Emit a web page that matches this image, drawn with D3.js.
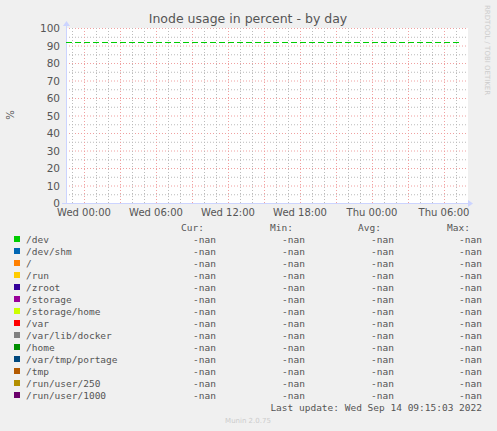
<!DOCTYPE html>
<html><head><meta charset="utf-8">
<script src="https://cdn.jsdelivr.net/npm/d3@7"></script>
<style>body{margin:0;background:#f0f0f0;} svg{font-family:"DejaVu Sans",sans-serif;}</style>
</head><body><svg id="chart" width="497" height="431"></svg>
<script>
// hours relative to Wed 00:00
const devHours = [-1.5, 0, 3, 6, 9, 12, 15, 18, 21, 24, 27, 30, 31.5];
const devValues = [92, 92, 92, 92, 92, 92, 92, 92, 92, 92, 92, 92, 92];
const yTicks = [0, 10, 20, 30, 40, 50, 60, 70, 80, 90, 100];
const xTickLabels = ["Wed 00:00", "Wed 06:00", "Wed 12:00", "Wed 18:00", "Thu 00:00", "Thu 06:00"];
const xTickHours = [0, 6, 12, 18, 24, 30];
const names = ["/dev", "/dev/shm", "/", "/run", "/zroot", "/storage", "/storage/home", "/var",
  "/var/lib/docker", "/home", "/var/tmp/portage", "/tmp", "/run/user/250", "/run/user/1000"];
const colors = ["#00cc00", "#0066b3", "#ff8000", "#ffcc00", "#330099", "#990099", "#ccff00", "#ff0000",
  "#808080", "#008f00", "#00487d", "#b35a00", "#b38f00", "#6b006b"];
const curV = names.map(() => "-nan"), minV = curV, avgV = curV, maxV = curV;

const svg = d3.select("#chart");
const x = d3.scaleLinear().domain([-1.5, 32]).range([66, 468]);
const y = d3.scaleLinear().domain([0, 100]).range([203, 28]);

svg.append("rect").attr("x", 66).attr("y", 28).attr("width", 402).attr("height", 175).attr("fill", "#fff");

// grid
const g = svg.append("g");
g.selectAll(".hmin").data(d3.range(0, 101, 5)).join("line")
  .attr("x1", 66).attr("x2", 468).attr("y1", d => y(d) + .5).attr("y2", d => y(d) + .5)
  .attr("stroke", d => d % 10 ? "#bbb" : "#f0a0a0").attr("stroke-dasharray", "1,2");
g.selectAll(".vmin").data(d3.range(-1, 32, 1)).join("line")
  .attr("y1", 28).attr("y2", 203).attr("x1", d => x(d) + .5).attr("x2", d => x(d) + .5)
  .attr("stroke", d => d % 3 ? "#bbb" : "#f0a0a0").attr("stroke-dasharray", "1,2");

// axes
svg.append("line").attr("x1", 66.5).attr("x2", 66.5).attr("y1", 24).attr("y2", 203).attr("stroke", "#ccd4ff");
svg.append("line").attr("x1", 62).attr("x2", 470).attr("y1", 203.5).attr("y2", 203.5).attr("stroke", "#ccd4ff");
svg.append("path").attr("d", "M63,26 L66.5,21 L70,26Z").attr("fill", "#ccd4ff");
svg.append("path").attr("d", "M468,200 L473,203.5 L468,207Z").attr("fill", "#ccd4ff");

svg.selectAll(".yl").data(yTicks).join("text")
  .attr("x", 60).attr("y", d => y(d) + 4).attr("text-anchor", "end")
  .attr("font-size", 10.5).attr("fill", "#555").text(d => d);
svg.selectAll(".xl").data(xTickHours).join("text")
  .attr("x", d => x(d)).attr("y", 216).attr("text-anchor", "middle")
  .attr("font-size", 10).attr("fill", "#555").text((d, i) => xTickLabels[i]);

svg.append("text").attr("x", 248).attr("y", 23).attr("text-anchor", "middle")
  .attr("font-size", 12.5).attr("fill", "#555").text("Inode usage in percent - by day");
svg.append("text").attr("transform", "translate(14,115) rotate(-90)").attr("text-anchor", "middle")
  .attr("font-size", 10).attr("fill", "#555").text("%");
svg.append("text").attr("transform", "translate(485,5) rotate(90)")
  .attr("font-size", 7).attr("fill", "#ccc").text("RRDTOOL / TOBI OETIKER");

// data line
svg.append("path").datum(devHours.map((h, i) => [h, devValues[i]]))
  .attr("d", d3.line().x(d => x(d[0])).y(d => y(d[1]) + .5))
  .attr("fill", "none").attr("stroke", colors[0]).attr("stroke-width", 1.2).attr("stroke-dasharray", "6,3");

// legend
const mono = "'DejaVu Sans Mono', monospace";
const hdr = [["Cur:", 204], ["Min:", 293], ["Avg:", 381], ["Max:", 470]];
svg.selectAll(".hd").data(hdr).join("text").attr("x", d => d[1]).attr("y", 231).attr("text-anchor", "end")
  .style("font-family", mono).attr("font-size", 9.5).attr("fill", "#555").text(d => d[0]);
const rows = svg.selectAll(".row").data(names).join("g").attr("transform", (d, i) => `translate(0,${243 + i * 12})`);
rows.append("rect").attr("x", 14).attr("y", -7).attr("width", 6).attr("height", 6).attr("fill", (d, i) => colors[i]);
rows.append("text").attr("x", 26).style("font-family", mono).attr("font-size", 9.5).attr("fill", "#555").text(d => d);
[[curV, 216], [minV, 305], [avgV, 394], [maxV, 482]].forEach(([vals, xr]) => {
  rows.append("text").attr("x", xr).attr("text-anchor", "end").style("font-family", mono)
    .attr("font-size", 9.5).attr("fill", "#555").text((d, i) => vals[i]);
});
svg.append("text").attr("x", 482).attr("y", 411).attr("text-anchor", "end").style("font-family", mono)
  .attr("font-size", 9.5).attr("fill", "#555").text("Last update: Wed Sep 14 09:15:03 2022");
svg.append("text").attr("x", 248).attr("y", 423).attr("text-anchor", "middle")
  .attr("font-size", 7).attr("fill", "#ccc").text("Munin 2.0.75");
</script></body></html>
